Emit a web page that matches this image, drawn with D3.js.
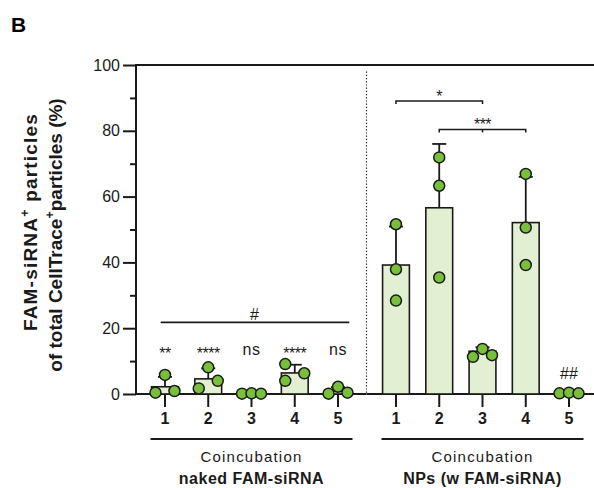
<!DOCTYPE html>
<html>
<head>
<meta charset="utf-8">
<script src="https://cdn.jsdelivr.net/npm/d3@7"></script>
<style>
  body { margin: 0; background: #fff; }
  svg { font-family: "Liberation Sans", Arial, sans-serif; }
</style>
</head>
<body>
<div id="chart"></div>
<script>
// data
let categories = ["1", "2", "3", "4", "5"]
let groupNames = ["naked FAM-siRNA", "NPs (w FAM-siRNA)"]
let nakedMean = [2.2, 4.6, 0.2, 6.4, 0.9]
let nakedSd = [3.0, 3.2, 0.2, 2.5, 1.2]
let nakedPoints = [[0.4, 5.8, 0.9], [1.7, 8.1, 4.0], [0.1, 0.2, 0.1], [9.1, 6.3, 4.0], [0.1, 2.2, 0.4]]
let npMean = [39.2, 56.6, 13.0, 52.1, 0.3]
let npSd = [11.7, 19.4, 1.2, 13.9, 0.2]
let npPoints = [[51.6, 37.9, 28.4], [71.9, 63.3, 35.4], [11.3, 13.7, 11.8], [66.9, 50.6, 39.2], [0.2, 0.4, 0.2]]
// horizontal spread of the dots (in dot widths), like Prism does
let nakedJitter = [[-1, 0, 1], [-1, 0, 1], [-1, 0, 1], [-1, 1, -1], [-1, 0, 1]]
let npJitter = [[0, 0, 0], [0, 0, 0], [-1, 0, 1], [0, 0, 0], [-1, 0, 1]]
let nakedStars = ["**", "****", "ns", "****", "ns"]
let yTicks = [0, 20, 40, 60, 80, 100]
let yMinor = [10, 30, 50, 70, 90]

let W = 594, H = 488
let svg = d3.select("#chart").append("svg")
    .attr("width", W)
    .attr("height", H)

let axisX = 136
let y = d3.scaleLinear().domain([0, 100]).range([394, 65])

let step = 43.3
let xLeft = d3.scaleBand().domain(categories)
    .range([165 - step / 2, 338 + step / 2]).paddingInner(0.38).paddingOuter(0.19)
let xRight = d3.scaleBand().domain(categories)
    .range([396 - step / 2, 569 + step / 2]).paddingInner(0.38).paddingOuter(0.19)

let barFill = "#e3efd2"
let dotFill = "#78c03a"
let ink = "#1a1a1a"
let font = "Liberation Sans, Arial, sans-serif"

// panel letter
svg.append("text").attr("x", 11).attr("y", 32)
    .attr("font-size", 21).attr("font-weight", "bold").text("B")

// y axis
let yAxis = d3.axisLeft(y).tickValues(yTicks).tickSize(13).tickPadding(3)
let gy = svg.append("g").attr("transform", "translate(" + axisX + ",0)").call(yAxis)
gy.select(".domain").remove()
gy.selectAll(".tick line").attr("stroke", ink).attr("stroke-width", 2)
gy.selectAll(".tick text").attr("font-size", 16).attr("fill", ink).attr("font-family", font)
let minor = d3.axisLeft(y).tickValues(yMinor).tickSize(6).tickFormat("")
let gm = svg.append("g").attr("transform", "translate(" + axisX + ",0)").call(minor)
gm.select(".domain").remove()
gm.selectAll(".tick line").attr("stroke", ink).attr("stroke-width", 2)
svg.append("line").attr("x1", axisX).attr("x2", axisX)
    .attr("y1", y(100) - 1).attr("y2", y(0) + 1)
    .attr("stroke", ink).attr("stroke-width", 2)

// top frame line
svg.append("line").attr("x1", axisX).attr("x2", W)
    .attr("y1", y(100)).attr("y2", y(100))
    .attr("stroke", ink).attr("stroke-width", 2.2)

// dotted divider
svg.append("line").attr("x1", 366.5).attr("x2", 366.5)
    .attr("y1", y(98)).attr("y2", y(0))
    .attr("stroke", ink).attr("stroke-width", 1.2).attr("stroke-dasharray", "1.2,2")

// y label (two lines, rotated)
let t1 = svg.append("text").attr("transform", "translate(0,222) rotate(-90)")
    .attr("x", 0).attr("y", 37).attr("text-anchor", "middle")
    .attr("font-size", 19).attr("font-weight", "bold").attr("fill", ink).attr("letter-spacing", 1.2)
t1.append("tspan").text("FAM-siRNA")
t1.append("tspan").attr("dy", -8).attr("font-size", 12.5).text("+")
t1.append("tspan").attr("dy", 8).text(" particles")
let t2 = svg.append("text").attr("transform", "translate(0,235) rotate(-90)")
    .attr("x", 0).attr("y", 62).attr("text-anchor", "middle")
    .attr("font-size", 19).attr("font-weight", "bold").attr("fill", ink)
t2.append("tspan").text("of total CellTrace")
t2.append("tspan").attr("dy", -8).attr("font-size", 12.5).text("+")
t2.append("tspan").attr("dy", 8).text("particles (%)")

function drawGroup(x, means, sds, points, jitter, name, isLeft) {
    let g = svg.append("g")
    let rows = categories.map((c, i) => ({c: c, mean: means[i], sd: sds[i], pts: points[i], jit: jitter[i]}))

    // x axis baseline
    g.append("line").attr("x1", isLeft ? axisX : x.range()[0] - 8).attr("x2", isLeft ? 366 : W)
        .attr("y1", y(0)).attr("y2", y(0))
        .attr("stroke", ink).attr("stroke-width", 2)

    // ticks + labels
    let ax = d3.axisBottom(x).tickSize(13).tickPadding(6)
    let ga = g.append("g").attr("transform", "translate(0," + y(0) + ")").call(ax)
    ga.select(".domain").remove()
    ga.selectAll(".tick line").attr("stroke", ink).attr("stroke-width", 2)
    ga.selectAll(".tick text").attr("font-size", 16).attr("font-weight", "bold").attr("fill", ink)
        .attr("font-family", font)

    // bars
    g.selectAll("rect.bar").data(rows).enter().append("rect")
        .attr("class", "bar")
        .attr("x", d => x(d.c))
        .attr("width", x.bandwidth())
        .attr("y", d => y(d.mean))
        .attr("height", d => y(0) - y(d.mean))
        .attr("fill", barFill)
        .attr("stroke", ink).attr("stroke-width", 1.6)

    // error bars (upper only)
    let cx = d => x(d.c) + x.bandwidth() / 2
    g.selectAll("line.err").data(rows).enter().append("line")
        .attr("x1", cx).attr("x2", cx)
        .attr("y1", d => y(d.mean)).attr("y2", d => y(d.mean + d.sd))
        .attr("stroke", ink).attr("stroke-width", 1.8)
    g.selectAll("line.cap").data(rows).enter().append("line")
        .attr("x1", d => cx(d) - 7).attr("x2", d => cx(d) + 7)
        .attr("y1", d => y(d.mean + d.sd)).attr("y2", d => y(d.mean + d.sd))
        .attr("stroke", ink).attr("stroke-width", 1.8)

    // dots
    let dots = []
    rows.forEach(d => d.pts.forEach((v, j) => dots.push({x: cx(d) + d.jit[j] * 9.5, v: v})))
    g.selectAll("circle").data(dots).enter().append("circle")
        .attr("cx", d => d.x).attr("cy", d => y(d.v)).attr("r", 5.5)
        .attr("fill", dotFill).attr("stroke", ink).attr("stroke-width", 1.5)

    // group underline and labels
    let mid = (x(categories[0]) + x(categories[4]) + x.bandwidth()) / 2
    g.append("line").attr("x1", mid - 101).attr("x2", mid + 101)
        .attr("y1", 439).attr("y2", 439).attr("stroke", ink).attr("stroke-width", 2)
    g.append("text").attr("x", mid).attr("y", 461.5).attr("text-anchor", "middle")
        .attr("font-size", 15).attr("fill", ink).attr("letter-spacing", 1.2).text("Coincubation")
    g.append("text").attr("x", mid).attr("y", 484).attr("text-anchor", "middle")
        .attr("font-size", 16).attr("font-weight", "bold").attr("fill", ink).attr("letter-spacing", 0.5).text(name)
}

drawGroup(xLeft, nakedMean, nakedSd, nakedPoints, nakedJitter, groupNames[0], true)
drawGroup(xRight, npMean, npSd, npPoints, npJitter, groupNames[1], false)

// significance marks, naked group
let lc = c => xLeft(c) + xLeft.bandwidth() / 2
let rc = c => xRight(c) + xRight.bandwidth() / 2
svg.selectAll("text.sig").data(categories).enter().append("text")
    .attr("x", lc)
    .attr("y", (c, i) => nakedStars[i] === "ns" ? 354.5 : 359)
    .attr("text-anchor", "middle")
    .attr("font-size", 16)
    .attr("fill", ink)
    .attr("letter-spacing", (c, i) => nakedStars[i] === "ns" ? 0.5 : -0.5)
    .text((c, i) => nakedStars[i])

svg.append("line").attr("x1", 160.7).attr("x2", 349.3).attr("y1", 322.3).attr("y2", 322.3)
    .attr("stroke", ink).attr("stroke-width", 1.8)
svg.append("text").attr("x", (lc("1") + lc("5")) / 2 + 3).attr("y", 319.5).attr("text-anchor", "middle")
    .attr("font-size", 16).attr("fill", ink).text("#")

// NP group brackets
function bracket(a, b, yy, label, midTick) {
    let xa = rc(a), xb = rc(b)
    let p = "M" + xa + "," + (yy + 3) + "V" + yy + "H" + xb + "V" + (yy + 3)
    svg.append("path").attr("d", p).attr("fill", "none").attr("stroke", ink).attr("stroke-width", 1.5)
    if (midTick) {
        let xm = rc(midTick)
        svg.append("line").attr("x1", xm).attr("x2", xm).attr("y1", yy).attr("y2", yy + 3)
            .attr("stroke", ink).attr("stroke-width", 1.5)
    }
    svg.append("text").attr("x", (xa + xb) / 2).attr("y", yy + 0.5).attr("text-anchor", "middle")
        .attr("font-size", 16).attr("fill", ink).attr("letter-spacing", -0.5).text(label)
}
bracket("1", "3", 101, "*")
bracket("2", "4", 129.5, "***", "3")

svg.append("text").attr("x", rc("5")).attr("y", 378.5).attr("text-anchor", "middle")
    .attr("font-size", 16).attr("fill", ink).text("##")
</script>
</body>
</html>
